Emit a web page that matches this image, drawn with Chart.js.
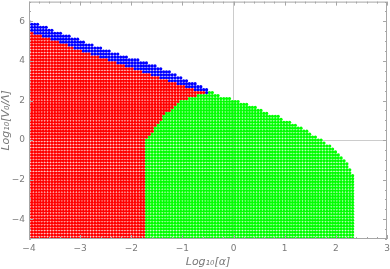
<!DOCTYPE html>
<html><head><meta charset="utf-8">
<script src="https://cdn.jsdelivr.net/npm/chart.js@4"></script>
<style>html,body{margin:0;padding:0;background:#fff}#wrap{width:390px;height:269px}</style>
</head><body><div id="wrap"><canvas id="c" width="390" height="269"></canvas></div>
<script>
// ---- axis ticks / titles ----
const xTickValues = [-4, -3, -2, -1, 0, 1, 2, 3];
const yTickValues = [-4, -2, 0, 2, 4, 6];
const xTitle = 'Log\u2081\u2080[\u03b1]';
const yTitle = 'Log\u2081\u2080[V\u2080/\u039b]';

// ---- sampling lattice of the parameter scan ----
const latticeXStart = -4.0, latticeXStep = 0.056, latticeXCount = 114;
const latticeYStart = -4.95, latticeYStep = 0.15, latticeYCount = 74;

// ---- region boundaries ----
// upper edge of the blue band
const blueTopX = [-4.0, -2.8, -1.43, -0.45];
const blueTopY = [6.03, 4.87, 3.66, 2.5];
// upper edge of the red region
const redTopX = [-4.0, -2.8, -1.43, -1.0, -0.45];
const redTopY = [5.5, 4.35, 3.15, 2.75, 2.3];
// left edge of the green region (x as function of y)
const greenLeftY = [-5.0, 0.0, 0.33, 1.23, 2.0, 2.25, 2.45];
const greenLeftX = [-1.72, -1.72, -1.62, -1.37, -1.04, -0.7, -0.45];
// upper edge of the green region
const greenTopX = [-0.45, -0.3, 0.0, 0.2, 0.4, 0.55, 0.7, 0.9, 1.0, 1.2, 1.35, 1.5, 1.65, 1.8, 1.95, 2.05, 2.15, 2.25, 2.33];
const greenTopY = [2.45, 2.25, 2.05, 1.9, 1.7, 1.55, 1.35, 1.2, 1.0, 0.83, 0.63, 0.35, 0.1, -0.12, -0.4, -0.65, -0.9, -1.2, -1.75];
const greenRightX = 2.35;
const blueRightX = -0.45;
const redRightX = -0.35;

function interp(xs, ys, v) {
  if (v <= xs[0]) return ys[0];
  for (let i = 1; i < xs.length; i++) {
    if (v <= xs[i]) { const t = (v - xs[i-1]) / (xs[i] - xs[i-1]); return ys[i-1] + t * (ys[i] - ys[i-1]); }
  }
  return ys[ys.length - 1];
}

const redPts = [], bluePts = [], greenPts = [];
for (let i = 0; i < latticeXCount; i++) {
  const x = latticeXStart + i * latticeXStep;
  for (let j = 0; j < latticeYCount; j++) {
    const y = latticeYStart + j * latticeYStep;
    const isGreen = x <= greenRightX && x >= interp(greenLeftY, greenLeftX, y) && y <= interp(greenTopX, greenTopY, x);
    if (isGreen) { greenPts.push({x, y}); continue; }
    if (x <= redRightX && y <= interp(redTopX, redTopY, x)) { redPts.push({x, y}); continue; }
    if (x <= blueRightX && y <= interp(blueTopX, blueTopY, x)) { bluePts.push({x, y}); continue; }
  }
}

const fmt = v => (v < 0 ? '\u2212' + Math.abs(v) : String(v));
const tickColor = '#7a7a7a';
const frameColor = '#a6a6a6';

const frameTicks = {
  id: 'frameTicks',
  afterDatasetsDraw(chart) {
    const {ctx, chartArea: a, scales: {x, y}} = chart;
    ctx.save();
    ctx.strokeStyle = frameColor;
    ctx.lineWidth = 1;
    ctx.strokeRect(a.left + 0.5, a.top + 0.5, a.right - a.left - 1, a.bottom - a.top - 1);
    ctx.beginPath();
    for (let k = 0; k <= 35; k++) {
      const v = x.min + k * 0.2;
      const major = Math.abs(v - Math.round(v)) < 1e-6;
      const L = major ? 4 : 2;
      const px = Math.round(x.getPixelForValue(v)) + 0.5;
      ctx.moveTo(px, a.bottom); ctx.lineTo(px, a.bottom - L);
      ctx.moveTo(px, a.top); ctx.lineTo(px, a.top + L);
    }
    for (let k = 0; k <= 24; k++) {
      const v = y.min + k * 0.5;
      const major = Math.abs(v / 2 - Math.round(v / 2)) < 1e-6;
      const L = major ? 4 : 2;
      const py = Math.round(y.getPixelForValue(v)) + 0.5;
      ctx.moveTo(a.left, py); ctx.lineTo(a.left + L, py);
      ctx.moveTo(a.right, py); ctx.lineTo(a.right - L, py);
    }
    ctx.stroke();
    ctx.restore();
  }
};

const ds = (label, data, color) => ({
  label, data, pointRadius: 1.6, pointHoverRadius: 1.6, pointBorderWidth: 0,
  pointBackgroundColor: color, backgroundColor: color, borderColor: color, showLine: false, clip: 0
});

new Chart(document.getElementById('c'), {
  type: 'scatter',
  data: { datasets: [ds('red', redPts, '#ff0000'), ds('blue', bluePts, '#0000ff'), ds('green', greenPts, '#00ff00')] },
  options: {
    responsive: false, animation: false, devicePixelRatio: 1,
    layout: { padding: { top: 0, right: 3, left: 0, bottom: 0 } },
    plugins: { legend: { display: false }, tooltip: { enabled: false } },
    scales: {
      x: {
        type: 'linear', min: -4, max: 3,
        afterBuildTicks: s => { s.ticks = xTickValues.map(v => ({value: v})); },
        afterFit: s => { s.height = 30; s.paddingLeft = 0; s.paddingRight = 0; },
        ticks: { callback: v => fmt(v), color: tickColor, font: { size: 9, family: 'DejaVu Sans' }, padding: 4, maxRotation: 0, autoSkip: false },
        grid: { drawTicks: false, color: c => (c.tick && c.tick.value === 0 ? '#cccccc' : 'rgba(0,0,0,0)') },
        border: { display: false },
        title: { display: true, text: xTitle, color: tickColor, font: { size: 11, style: 'italic', family: 'DejaVu Sans' }, padding: 0 }
      },
      y: {
        type: 'linear', min: -5, max: 7,
        afterBuildTicks: s => { s.ticks = yTickValues.map(v => ({value: v})); },
        afterFit: s => { s.width = 29; s.paddingTop = 0; s.paddingBottom = 0; },
        ticks: { callback: v => fmt(v), color: tickColor, font: { size: 9, family: 'DejaVu Sans' }, padding: 4, autoSkip: false },
        grid: { drawTicks: false, color: c => (c.tick && c.tick.value === 0 ? '#cccccc' : 'rgba(0,0,0,0)') },
        border: { display: false },
        title: { display: true, text: yTitle, color: tickColor, font: { size: 11, style: 'italic', family: 'DejaVu Sans' }, padding: 0 }
      }
    }
  },
  plugins: [frameTicks]
});
</script></body></html>
